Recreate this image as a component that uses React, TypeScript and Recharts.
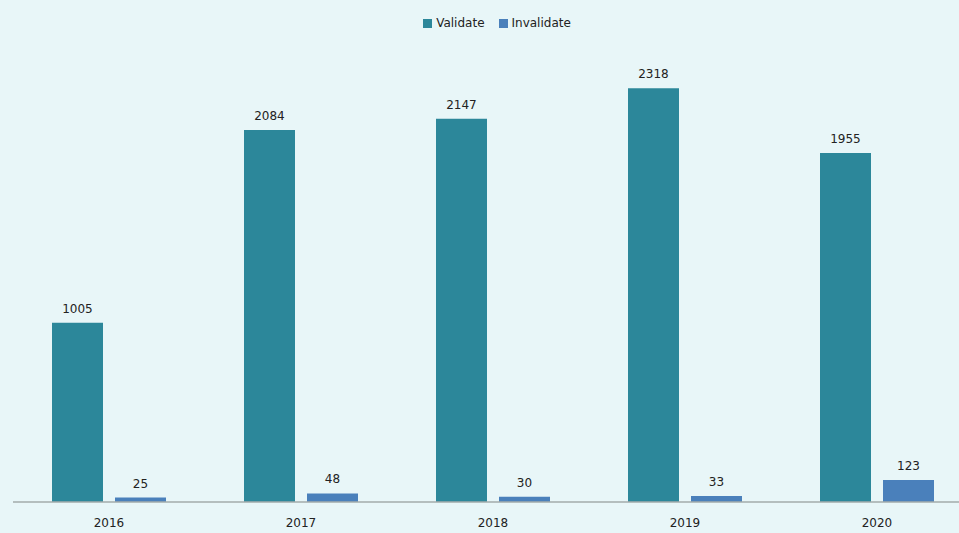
import React from 'react';
import { BarChart, Bar, XAxis, YAxis, LabelList } from 'recharts';

const years = ['2016', '2017', '2018', '2019', '2020'];
const validate = [1005, 2084, 2147, 2318, 1955];
const invalidate = [25, 48, 30, 33, 123];

const data = years.map((year, i) => ({
  year,
  validate: validate[i],
  invalidate: invalidate[i],
}));

const FONT = '"DejaVu Sans", Verdana, sans-serif';
const TEAL = '#2c879a';
const BLUE = '#4a80bb';

// legend sits above the plot, drawn as a plain div so it doesn't eat plot space
const TopLegend = () => (
  <div
    style={{
      position: 'absolute', top: 16, left: 2, width: 990,
      display: 'flex', justifyContent: 'center', gap: 14,
      fontFamily: FONT, fontSize: 12, color: '#222',
    }}
  >
    <span style={{ display: 'flex', alignItems: 'center' }}>
      <span style={{ width: 9, height: 9, background: TEAL, marginRight: 4, display: 'inline-block' }} />
      Validate
    </span>
    <span style={{ display: 'flex', alignItems: 'center' }}>
      <span style={{ width: 9, height: 9, background: BLUE, marginRight: 4, display: 'inline-block' }} />
      Invalidate
    </span>
  </div>
);

const App: React.FC = () => {
  return (
    <div style={{ position: 'absolute', left: 0, top: 0, width: 959, height: 533, overflow: 'hidden', background: '#e8f6f8' }}>
      <TopLegend />
      <BarChart
        width={973}
        height={533}
        data={data}
        margin={{ top: 38, right: 0, left: 13, bottom: 1 }}
        barCategoryGap={39}
        barGap={12}
      >
        <XAxis
          dataKey="year"
          height={30}
          axisLine={{ stroke: '#a3abab', strokeWidth: 1.5 }}
          tickLine={false}
          tick={{ fill: '#222', fontSize: 12, fontFamily: FONT }}
          tickMargin={10}
        />
        <YAxis hide domain={[0, 2600]} />
        <Bar dataKey="validate" name="Validate" fill={TEAL} barSize={51} isAnimationActive={false}>
          <LabelList dataKey="validate" position="top" offset={10} fill="#222" fontSize={12} fontFamily={FONT} />
        </Bar>
        <Bar dataKey="invalidate" name="Invalidate" fill={BLUE} barSize={51} isAnimationActive={false}>
          <LabelList dataKey="invalidate" position="top" offset={10} fill="#222" fontSize={12} fontFamily={FONT} />
        </Bar>
      </BarChart>
    </div>
  );
};

export default App;
